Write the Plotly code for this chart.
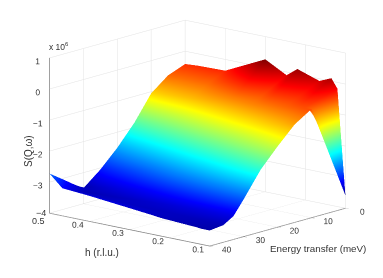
import plotly.graph_objects as go

h_values = [0.10, 0.12, 0.135, 0.165, 0.22, 0.247, 0.30, 0.40, 0.468, 0.50]
energy_values = [0, 5, 10, 15, 20, 25, 30, 33, 36, 40]

s_e0 = [-3.6, -0.2, 0.1, -0.07, 0.17, -0.1, 0.27, -0.36, -0.38, -0.41]
s_e5 = [-2.05, -0.36, -0.22, -0.33, -0.25, -0.41, -0.27, -0.62, -0.64, -0.62]
s_e10 = [-0.5, -0.52, -0.55, -0.6, -0.68, -0.72, -0.8, -0.95, -1.0, -1.05]
s_e15 = [-0.85, -0.9, -0.95, -1.02, -1.15, -1.2, -1.32, -1.58, -1.75, -1.85]
s_e20 = [-1.4, -1.43, -1.47, -1.55, -1.7, -1.78, -1.92, -2.2, -2.4, -2.5]
s_e25 = [-2.0, -2.03, -2.07, -2.15, -2.3, -2.37, -2.5, -2.78, -2.95, -3.05]
s_e30 = [-2.8, -2.82, -2.84, -2.88, -2.95, -2.99, -3.07, -3.25, -3.38, -3.5]
s_e33 = [-3.25, -3.25, -3.25, -3.26, -3.28, -3.3, -3.34, -3.42, -3.45, -3.27]
s_e36 = [-3.45, -3.44, -3.43, -3.42, -3.4, -3.4, -3.4, -3.38, -3.35, -3.03]
s_e40 = [-3.5, -3.5, -3.48, -3.46, -3.42, -3.38, -3.31, -3.18, -3.11, -2.72]
s_rows = [s_e0, s_e5, s_e10, s_e15, s_e20, s_e25, s_e30, s_e33, s_e36, s_e40]

h_ticks = [0.1, 0.2, 0.3, 0.4, 0.5]
h_tick_text = ["0.1", "0.2", "0.3", "0.4", ""]
e_ticks = [0, 10, 20, 30, 40]
z_ticks = [-4, -3, -2, -1, 0, 1]
z_tick_text = ["", "\u22123", "\u22122", "\u22121", "0", "1"]

jet = [[0, "#00008f"], [0.125, "#0000ff"], [0.375, "#00ffff"], [0.625, "#ffff00"],
       [0.875, "#ff0000"], [1, "#800000"]]

FONT = "Liberation Sans"
TXT = "#333333"


def axis(rng, tickvals, ticktext=None, ticklen=3):
    return dict(range=rng, autorange=False, tickvals=tickvals, ticktext=ticktext, title=dict(text=""), tickangle=0,
                showgrid=True, gridcolor="#e2e2e2", gridwidth=1, showline=True, linecolor="#808080",
                linewidth=1.5, zeroline=False, showbackground=False, ticks="outside", ticklen=ticklen,
                tickcolor="#808080", tickfont=dict(family=FONT, size=10, color=TXT), showspikes=False)


def label(text, px, py, size=10, angle=0):
    # the page body adds an 8 px offset to the figure
    return dict(text=text, x=(px - 8) / 383, y=1 - (py - 8) / 278, xref="paper", yref="paper", showarrow=False,
                xanchor="center", yanchor="middle", textangle=angle, font=dict(size=size))


fig = go.Figure(go.Surface(x=h_values, y=energy_values, z=s_rows, colorscale=jet, cmin=-3.62, cmax=0.27,
                           showscale=False, hoverinfo="skip",
                           lighting=dict(ambient=1, diffuse=0, specular=0, roughness=1, fresnel=0)))
fig.update_layout(
    width=383, height=278, margin=dict(l=0, r=0, t=0, b=0), paper_bgcolor="white", showlegend=False,
    font=dict(family=FONT, size=10, color=TXT),
    scene=dict(
        domain=dict(x=[0, 1], y=[0, 1]),
        xaxis=axis([0.5, 0.1], h_ticks, h_tick_text, ticklen=4),
        yaxis=axis([40, 0], e_ticks, ticklen=0),
        zaxis=axis([-4, 1], z_ticks, z_tick_text),
        aspectmode="manual", aspectratio=dict(x=1.52, y=1.5, z=1.15),
        camera=dict(projection=dict(type="orthographic"),
                    eye=dict(x=1.275, y=-1.464, z=0.375), center=dict(x=0.011, y=0.01, z=-0.103),
                    up=dict(x=0, y=0, z=1)),
    ),
    annotations=[
        label("x 10<sup>6</sup>", 59, 46, 8.5),
        label("S(Q,ω)", 28, 151, 10, -90),
        label("h (r.l.u.)", 102, 252, 10),
        label("Energy transfer (meV)", 318, 248, 9.8),
        label("\u22124", 41, 213, 9),
        label("0.5", 38, 221, 9),
    ],
)
fig.write_html("out.html")
